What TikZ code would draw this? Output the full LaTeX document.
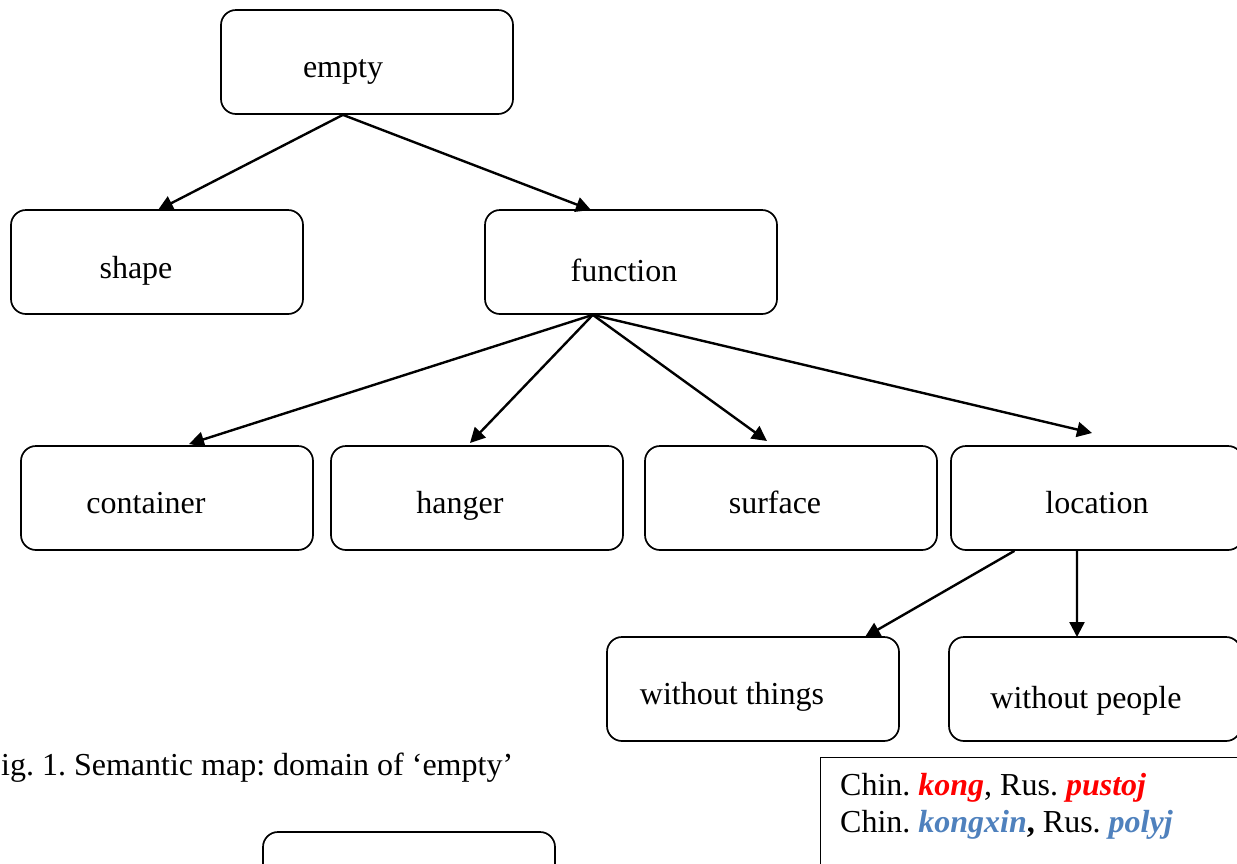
\documentclass[tikz,border=0pt]{standalone}
\usepackage{fontspec}
\setmainfont{Liberation Serif}
\usetikzlibrary{arrows.meta,calc}
\definecolor{kred}{RGB}{255,0,0}
\definecolor{kblue}{RGB}{79,129,189}
\frenchspacing
\begin{document}
\begin{tikzpicture}[x=1pt,y=-1pt,
  box/.style={draw, rounded corners=15pt, minimum width=292pt, minimum height=104pt, inner sep=0pt, line width=1.7pt},
  txt/.style={font=\fontsize{32}{38}\selectfont, anchor=base, inner sep=0pt},
  arr/.style={line width=2.4pt, -{Triangle[length=15pt,width=15pt]}}]
\useasboundingbox (0,0) rectangle (1237,863);
\clip (0,0) rectangle (1237,863);
% boxes
\node[box] (empty) at (367,62) {};
\node[box] (shape) at (157,262) {};
\node[box] (function) at (631,262) {};
\node[box] (container) at (167,498) {};
\node[box] (hanger) at (477,498) {};
\node[box] (surface) at (791,498) {};
\node[box] (location) at (1097,498) {};
\node[box] (wthings) at (753,689) {};
\node[box] (wpeople) at (1095,689) {};
\node[box] (lower) at (409,884) {};
% texts
\node[txt] (empty-t) at (343,77) {empty};
\node[txt] (shape-t) at (136,278) {shape};
\node[txt] (function-t) at (624,281) {function};
\node[txt] (container-t) at (146,513) {container};
\node[txt] (hanger-t) at (460,513) {hanger};
\node[txt] (surface-t) at (775,513) {surface};
\node[txt] (location-t) at (1097,513) {location};
\node[txt] (wthings-t) at (732,704) {without things};
\node[txt] (wpeople-t) at (1086,708) {without people};
\node[txt, anchor=base west] (caption) at (1,775) {ig. 1. Semantic map: domain of ‘empty’};
% legend
\node[draw, line width=0.9pt, anchor=north west, minimum width=460pt, minimum height=150pt, inner sep=0pt] (legend) at (820,757) {};
\node[txt, anchor=base west] (leg1) at (840,795) {Chin. \textcolor{kred}{\textbf{\textit{kong}}}, Rus. \textcolor{kred}{\textbf{\textit{pustoj}}}};
\node[txt, anchor=base west] (leg2) at (840,832) {Chin. \textcolor{kblue}{\textbf{\textit{kongxin}}}\textbf{,} Rus. \textcolor{kblue}{\textbf{\textit{polyj}}}};
% arrow anchor points
\coordinate (e-out) at ($(empty.south west)!0.418!(empty.south east)$);
\coordinate (f-out) at ($(function.south west)!0.37!(function.south east)$);
\coordinate (l-out1) at ($(location.south west)!0.219!(location.south east)$);
\coordinate (l-out2) at ($(location.south west)!0.432!(location.south east)$);
\coordinate (t-shape) at (158,210);
\coordinate (t-function) at (591,210);
\coordinate (t-container) at (189,444);
\coordinate (t-hanger) at (470,443);
\coordinate (t-surface) at (767,441);
\coordinate (t-location) at (1092,433);
\coordinate (t-wthings) at (865,637);
\coordinate (t-wpeople) at (1077,637);
% arrows
\draw[arr] (e-out) -- (t-shape);
\draw[arr] (e-out) -- (t-function);
\draw[arr] (f-out) -- (t-container);
\draw[arr] (f-out) -- (t-hanger);
\draw[arr] (f-out) -- (t-surface);
\draw[arr] (f-out) -- (t-location);
\draw[arr] (l-out1) -- (t-wthings);
\draw[arr] (l-out2) -- (t-wpeople);
\end{tikzpicture}
\end{document}
